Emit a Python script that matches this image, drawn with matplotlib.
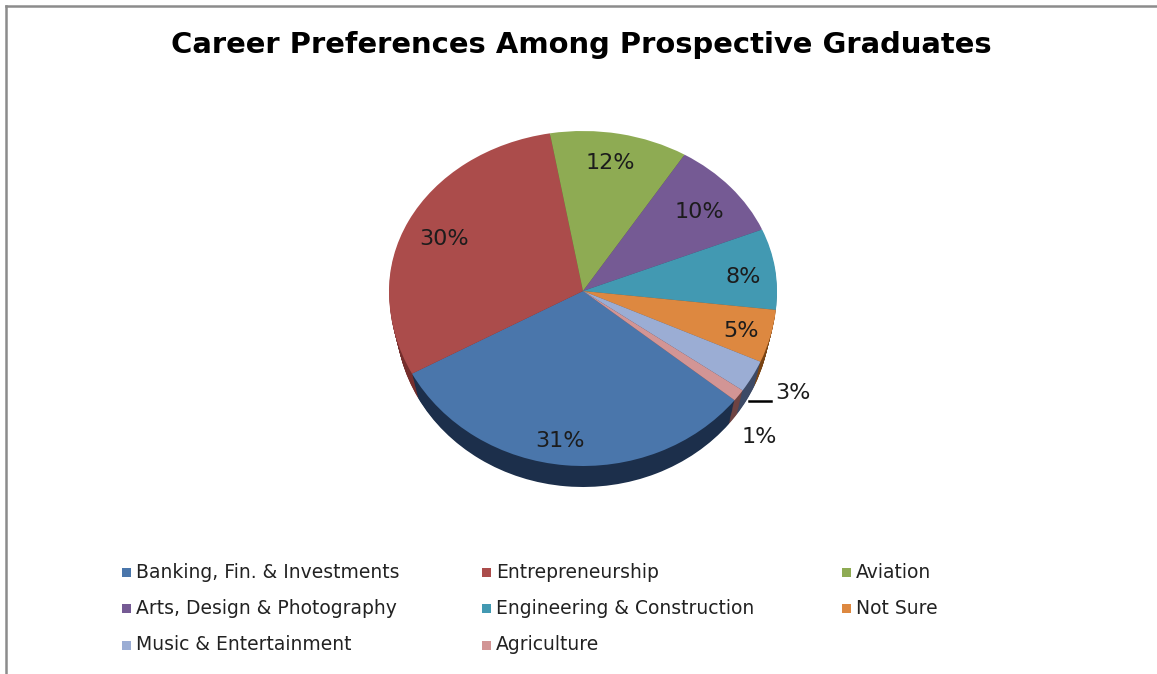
import matplotlib
matplotlib.use("Agg")
import matplotlib.pyplot as plt
from matplotlib.patches import Rectangle
from matplotlib.lines import Line2D
import numpy as np

# data
categorias = ['Banking, Fin. & Investments', 'Entrepreneurship', 'Aviation',
              'Arts, Design & Photography', 'Engineering & Construction', 'Not Sure',
              'Music & Entertainment', 'Agriculture']
valores = [31.45, 30.1, 11.5, 9.95, 8.0, 4.9, 3.0, 1.1]
etiquetas = ['31%', '30%', '12%', '10%', '8%', '5%', '3%', '1%']
colores = ['#4a76ab', '#ab4c4b', '#8eab53', '#755a94', '#4299b2', '#dd8840', '#9badd4', '#d29595']
colores_lado = ['#1c2f4b', '#752e2d', '#56692f', '#46345c', '#255f70', '#7a4413', '#3d4a66', '#6e4342']

# layout, in pixels of the 1157x674 image
W, H = 1157, 674
cx, cy = 583, 291       # apex of the pie
rx, ry_up, ry_down = 194, 160, 175
grosor = 21
encoge = 0.035          # the lower rim is a bit narrower than the top one
pos_etiquetas = [(560, 441), (444, 239), (610, 163), (699, 212), (743, 277), (741, 331), (793, 393), (759, 437)]
pos_x_leyenda = [122, 482, 842]
pos_y_leyenda = [572, 608, 645]


def px(x, y):
    return x / W, 1 - y / H


def adelante(y):
    y = np.asarray(y, dtype=float)
    return np.where(y >= 0, y * ry_up, y * ry_down)


def atras(y):
    y = np.asarray(y, dtype=float)
    return np.where(y >= 0, y / ry_up, y / ry_down)


fig = plt.figure(figsize=(W / 100, H / 100), dpi=100, facecolor='white')

# pie axes: top at y=121, bottom at y=500
ax = fig.add_axes([(cx - rx - 10) / W, 1 - 500 / H, (2 * rx + 20) / W, (500 - 121) / H])

# side of the pie: same wedges moved down one pixel at a time, getting narrower
for d in range(grosor, 0, -1):
    radio = 1 - encoge * d / grosor
    ax.pie(valores, colors=colores_lado, startangle=-38.6, counterclock=False, radius=radio,
           center=(0, -(d / ry_down + (1 - radio))), wedgeprops={'linewidth': 0})
ax.pie(valores, colors=colores, startangle=-38.6, counterclock=False,
       wedgeprops={'linewidth': 0})

ax.set_aspect('auto')
ax.set_yscale('function', functions=(adelante, atras))
ax.set_xlim(-(rx + 10) / rx, (rx + 10) / rx)
ax.set_ylim(-(500 - cy) / ry_down, (cy - 121) / ry_up)
ax.axis('off')

# title
fig.text(*px(581.5, 45), 'Career Preferences Among Prospective Graduates', ha='center', va='center',
         fontsize=20.85, fontweight='bold', color='black', family='DejaVu Sans')

# percent labels
for txt, (x, y) in zip(etiquetas, pos_etiquetas):
    fig.text(*px(x, y), txt, ha='center', va='center', fontsize=16, color='#1c1c1c')

# leader line of the 3% label
fig.add_artist(Line2D([749 / W, 771 / W], [1 - 401 / H, 1 - 401 / H], color='black', lw=1.8))

# legend, filled by rows
for i, nombre in enumerate(categorias):
    x = pos_x_leyenda[i % 3]
    y = pos_y_leyenda[i // 3]
    fig.add_artist(Rectangle((x / W, 1 - (y + 5) / H), 9 / W, 9 / H, transform=fig.transFigure,
                             facecolor=colores[i], edgecolor='none'))
    fig.text(*px(x + 14, y), nombre, ha='left', va='center', fontsize=13.5, color='#222222')

# gray frame, top and left only
fig.add_artist(Line2D([6 / W, 6 / W], [0, 1 - 6 / H], color='#8c8c8c', lw=1.8))
fig.add_artist(Line2D([6 / W, 1], [1 - 6 / H, 1 - 6 / H], color='#8c8c8c', lw=1.8))

fig.savefig('out.png', dpi=100)
